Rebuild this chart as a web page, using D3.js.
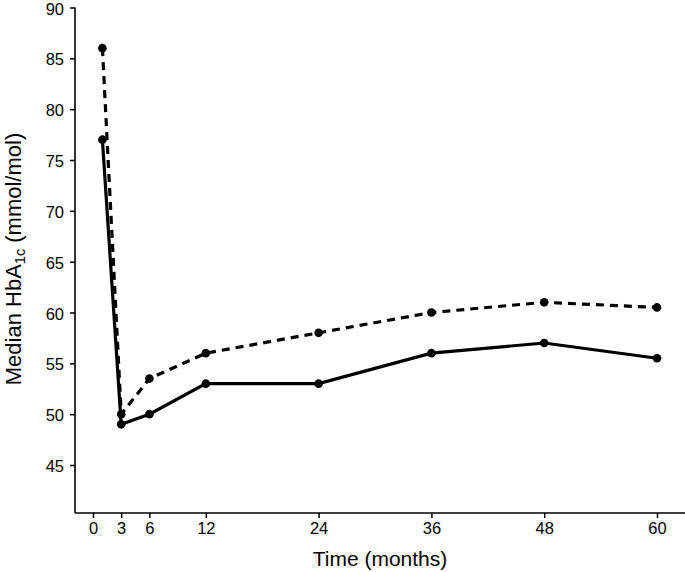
<!DOCTYPE html>
<html><head><meta charset="utf-8">
<script src="https://cdn.jsdelivr.net/npm/d3@7"></script>
<style>body{margin:0;background:#fff}svg{display:block}text{font-family:"Liberation Sans",Arial,Helvetica,sans-serif;fill:#000}</style>
</head><body><svg id="c" width="685" height="572"></svg>
<script>
const months = [1, 3, 6, 12, 24, 36, 48, 60];
const solidValues = [77, 49, 50, 53, 53, 56, 57, 55.5];
const dashedValues = [86, 50, 53.5, 56, 58, 60, 61, 60.5];
const xTicks = [0, 3, 6, 12, 24, 36, 48, 60];
const yTicks = [45, 50, 55, 60, 65, 70, 75, 80, 85, 90];

const svg = d3.select("#c");
const x = d3.scaleLinear().domain([0, 60]).range([93, 657]);
const y = d3.scaleLinear().domain([45, 90]).range([465, 7.5]);
const axisX0 = 75, axisY0 = 513;

// axes lines
svg.append("line").attr("x1", axisX0).attr("x2", 685).attr("y1", axisY0).attr("y2", axisY0)
  .attr("stroke", "#000").attr("stroke-width", 1.6);
svg.append("line").attr("x1", axisX0).attr("x2", axisX0).attr("y1", y(90)).attr("y2", axisY0)
  .attr("stroke", "#000").attr("stroke-width", 1.6);

const gx = svg.append("g").attr("transform", `translate(0,${axisY0})`)
  .call(d3.axisBottom(x).tickValues(xTicks).tickSize(5).tickPadding(4).tickFormat(d3.format("d")));
gx.select(".domain").remove();
gx.selectAll("line").attr("stroke-width", 1.5);
gx.selectAll("text").attr("font-size", 16.5).style("font-family", '"Liberation Sans",Arial,sans-serif');

const gy = svg.append("g").attr("transform", `translate(${axisX0},0)`)
  .call(d3.axisLeft(y).tickValues(yTicks).tickSize(5).tickPadding(6).tickFormat(d3.format("d")));
gy.select(".domain").remove();
gy.selectAll("line").attr("stroke-width", 1.5);
gy.selectAll("text").attr("font-size", 16.5).attr("dy", "0.4em")
  .style("font-family", '"Liberation Sans",Arial,sans-serif');

// axis titles
svg.append("text").attr("x", 380).attr("y", 566).attr("text-anchor", "middle")
  .attr("font-size", 21).text("Time (months)");
const yl = svg.append("text").attr("transform", "translate(21,259) rotate(-90)")
  .attr("text-anchor", "middle").attr("font-size", 22);
yl.append("tspan").text("Median HbA");
yl.append("tspan").attr("font-size", 14.5).attr("dy", 4).text("1c");
yl.append("tspan").attr("dy", -4).text(" (mmol/mol)");

const line = d3.line().x((d, i) => x(months[i])).y(d => y(d));

svg.append("path").datum(dashedValues).attr("d", line).attr("fill", "none")
  .attr("stroke", "#000").attr("stroke-width", 3.2).attr("stroke-dasharray", "8,6");
svg.append("path").datum(solidValues).attr("d", line).attr("fill", "none")
  .attr("stroke", "#000").attr("stroke-width", 3.2);

[dashedValues, solidValues].forEach(vals => {
  svg.append("g").selectAll("circle").data(vals).join("circle")
    .attr("cx", (d, i) => x(months[i])).attr("cy", d => y(d)).attr("r", 4.3).attr("fill", "#000");
});
</script></body></html>
